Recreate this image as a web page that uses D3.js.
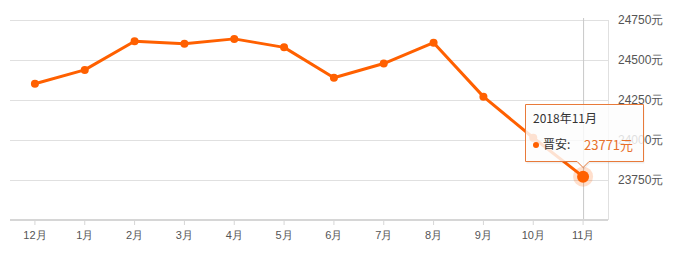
<!DOCTYPE html>
<html>
<head>
<meta charset="utf-8">
<script src="https://cdn.jsdelivr.net/npm/d3@7"></script>
<style>
  body { margin: 0; background: #fff; }
  svg { display: block; font-family: "Microsoft YaHei", "Noto Sans CJK SC", sans-serif; }
</style>
</head>
<body>
<svg id="chart" width="681" height="255"></svg>
<script>
const months = ["12月", "1月", "2月", "3月", "4月", "5月", "6月", "7月", "8月", "9月", "10月", "11月"];
const prices = [24352, 24438, 24617, 24602, 24632, 24579, 24389, 24478, 24608, 24271, 24014, 23771];
const yTicks = [23750, 24000, 24250, 24500, 24750];
const tipTitle = "2018年11月";
const tipSeries = "晋安";
const activeIdx = 11;

const orange = "#ff6000";
const svg = d3.select("#chart");
const plotLeft = 10, plotRight = 608, plotTop = 20, plotBottom = 220;

const x = d3.scaleBand().domain(months).range([plotLeft, plotRight]);
const y = d3.scaleLinear().domain([23500, 24750]).range([plotBottom, plotTop]);
const cx = m => x(m) + x.bandwidth() / 2;

// grid
svg.append("g").selectAll("line").data(yTicks).join("line")
  .attr("x1", plotLeft).attr("x2", plotRight)
  .attr("y1", d => y(d) + 0.5).attr("y2", d => y(d) + 0.5)
  .attr("stroke", "#e0e0e0");

// right border
svg.append("line")
  .attr("x1", plotRight + 0.5).attr("x2", plotRight + 0.5)
  .attr("y1", plotTop).attr("y2", plotBottom)
  .attr("stroke", "#e0e0e0");

// crosshair
svg.append("line")
  .attr("x1", cx(months[activeIdx]) + 0.5).attr("x2", cx(months[activeIdx]) + 0.5)
  .attr("y1", plotTop - 2).attr("y2", plotBottom)
  .attr("stroke", "#c8c8c8");

// x axis
const xAxis = svg.append("g")
  .attr("transform", `translate(0,${plotBottom})`)
  .call(d3.axisBottom(x).tickSize(5).tickPadding(6));
xAxis.select(".domain").attr("stroke", "#d6d6d6").attr("stroke-width", 2)
  .attr("d", `M${plotLeft},0H${plotRight}`);
xAxis.selectAll(".tick line").attr("stroke", "#d6d6d6");
xAxis.selectAll(".tick text").attr("fill", "#555").attr("font-size", 11);

// y axis on the right
const yAxis = svg.append("g")
  .attr("transform", `translate(${plotRight},0)`)
  .call(d3.axisRight(y).tickValues(yTicks).tickSize(0).tickPadding(10)
    .tickFormat(d => d + "元"));
yAxis.select(".domain").remove();
yAxis.selectAll(".tick text").attr("fill", "#555").attr("font-size", 12);

// line
const line = d3.line().x((d, i) => cx(months[i])).y(d => y(d));
svg.append("path").datum(prices)
  .attr("fill", "none").attr("stroke", orange).attr("stroke-width", 3)
  .attr("stroke-linejoin", "round")
  .attr("d", line);

svg.append("g").selectAll("circle").data(prices).join("circle")
  .attr("cx", (d, i) => cx(months[i])).attr("cy", d => y(d))
  .attr("r", (d, i) => i === activeIdx ? 0 : 4)
  .attr("fill", orange);

// active point
const ax = cx(months[activeIdx]), ay = y(prices[activeIdx]);
svg.append("circle").attr("cx", ax).attr("cy", ay).attr("r", 10)
  .attr("fill", orange).attr("opacity", 0.2);
svg.append("circle").attr("cx", ax).attr("cy", ay).attr("r", 6)
  .attr("fill", orange);

// tooltip
const tx = 525.5, ty = 104.5, tw = 118, th = 57;
const tip = svg.append("g");
const tipPath = `M${tx},${ty}H${tx + tw}V${ty + th}H${ax + 6}L${ax},${ty + th + 6}L${ax - 6},${ty + th}H${tx}Z`;
tip.append("path").attr("d", tipPath)
  .attr("transform", "translate(1,2)")
  .attr("fill", "rgba(0,0,0,0.06)");
tip.append("path").attr("d", tipPath)
  .attr("fill", "rgba(255,255,255,0.82)")
  .attr("stroke", "#e87a3a").attr("stroke-width", 1);
tip.append("text").attr("x", 533).attr("y", 123)
  .attr("font-size", 12).attr("fill", "#333").text(tipTitle);
tip.append("circle").attr("cx", 536).attr("cy", 145).attr("r", 3).attr("fill", orange);
tip.append("text").attr("x", 543).attr("y", 149)
  .attr("font-size", 12).attr("fill", "#333").text(tipSeries + ":");
tip.append("text").attr("x", 584).attr("y", 150)
  .attr("font-size", 13).attr("fill", "#e8702a").text(prices[activeIdx] + "元");
</script>
</body>
</html>
